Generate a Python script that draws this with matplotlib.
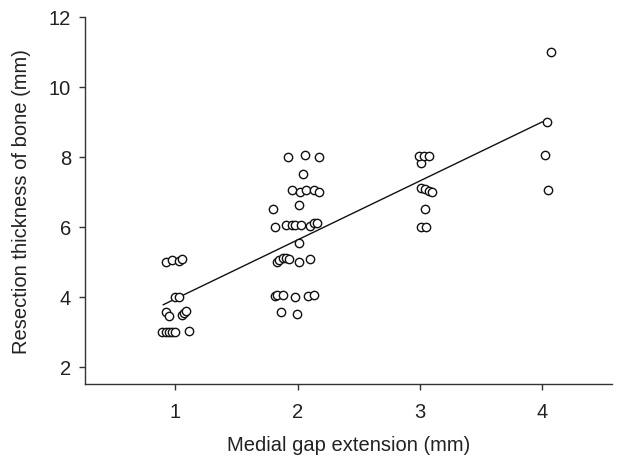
import matplotlib
matplotlib.use("Agg")
import matplotlib.pyplot as plt
import numpy as np

plt.rcParams["font.family"] = ["Liberation Sans", "DejaVu Sans"]

# medial gap extension (mm), jittered as in the figure
gap_x = [
    # 1 mm
    0.89, 0.92, 0.95, 0.97, 1.00, 1.11,
    0.92, 0.95, 1.05, 1.07, 1.09,
    1.00, 1.03,
    0.92, 0.97, 1.03, 1.05,
    # 2 mm
    1.86, 1.99,
    1.81, 1.83, 1.88, 1.98, 2.08, 2.13,
    1.83, 1.85, 1.88, 1.90, 1.93, 2.01, 2.10,
    2.01,
    1.81, 1.90, 1.95, 1.98, 2.03, 2.10, 2.13, 2.16,
    1.80, 2.01,
    1.95, 2.02, 2.07, 2.13, 2.17,
    2.04,
    1.92, 2.06, 2.17,
    # 3 mm
    3.01, 3.05,
    3.04,
    3.01, 3.04, 3.07, 3.10,
    3.01,
    2.99, 3.03, 3.07,
    # 4 mm
    4.05, 4.02, 4.04, 4.07,
]

# resection thickness of bone (mm)
thickness = [
    3.0, 3.0, 3.0, 3.0, 3.0, 3.02,
    3.55, 3.45, 3.46, 3.52, 3.58,
    4.0, 4.0,
    5.0, 5.05, 5.03, 5.08,
    3.55, 3.5,
    4.02, 4.05, 4.05, 4.0, 4.02, 4.04,
    5.0, 5.06, 5.1, 5.1, 5.07, 5.0, 5.08,
    5.52,
    5.98, 6.06, 6.05, 6.04, 6.04, 6.02, 6.1, 6.12,
    6.52, 6.62,
    7.05, 7.0, 7.05, 7.05, 6.98,
    7.5,
    8.0, 8.04, 7.98,
    6.0, 6.0,
    6.52,
    7.1, 7.07, 7.03, 6.98,
    7.82,
    8.02, 8.02, 8.02,
    7.05, 8.04, 9.0, 11.0,
]

# regression line
fit_x = [0.9, 4.0]
fit_intercept = 2.25
fit_slope = 1.687

x_ticks = [1, 2, 3, 4]
y_ticks = [2, 4, 6, 8, 10, 12]

fig = plt.figure(figsize=(6.28, 4.60), dpi=100)
ax = fig.add_axes([0.1354, 0.163, 0.839, 0.798])

line_x = np.array(fit_x)
ax.plot(line_x, fit_intercept + fit_slope * line_x, color="#111111", lw=1.0, zorder=2)
ax.plot(gap_x, thickness, linestyle="none", marker="o", markersize=6.0,
        markerfacecolor="white", markeredgecolor="#111111", markeredgewidth=1.0, zorder=3)

ax.set_xlim(0.26, 4.57)
ax.set_ylim(1.5, 12)
ax.set_xticks(x_ticks)
ax.set_yticks(y_ticks)

for side in ("top", "right"):
    ax.spines[side].set_visible(False)
for side in ("left", "bottom"):
    ax.spines[side].set_color("#333333")
    ax.spines[side].set_linewidth(1.0)

ax.tick_params(direction="out", length=4, width=1.0, color="#333333",
               labelcolor="#222222", labelsize=14.5)
ax.tick_params(axis="x", pad=9)
ax.tick_params(axis="y", pad=6)

ax.set_xlabel("Medial gap extension (mm)", fontsize=14.5, color="#222222", labelpad=10)
ax.set_ylabel("Resection thickness of bone (mm)", fontsize=14.5, color="#222222", labelpad=13)

fig.savefig("out.png", dpi=100)
